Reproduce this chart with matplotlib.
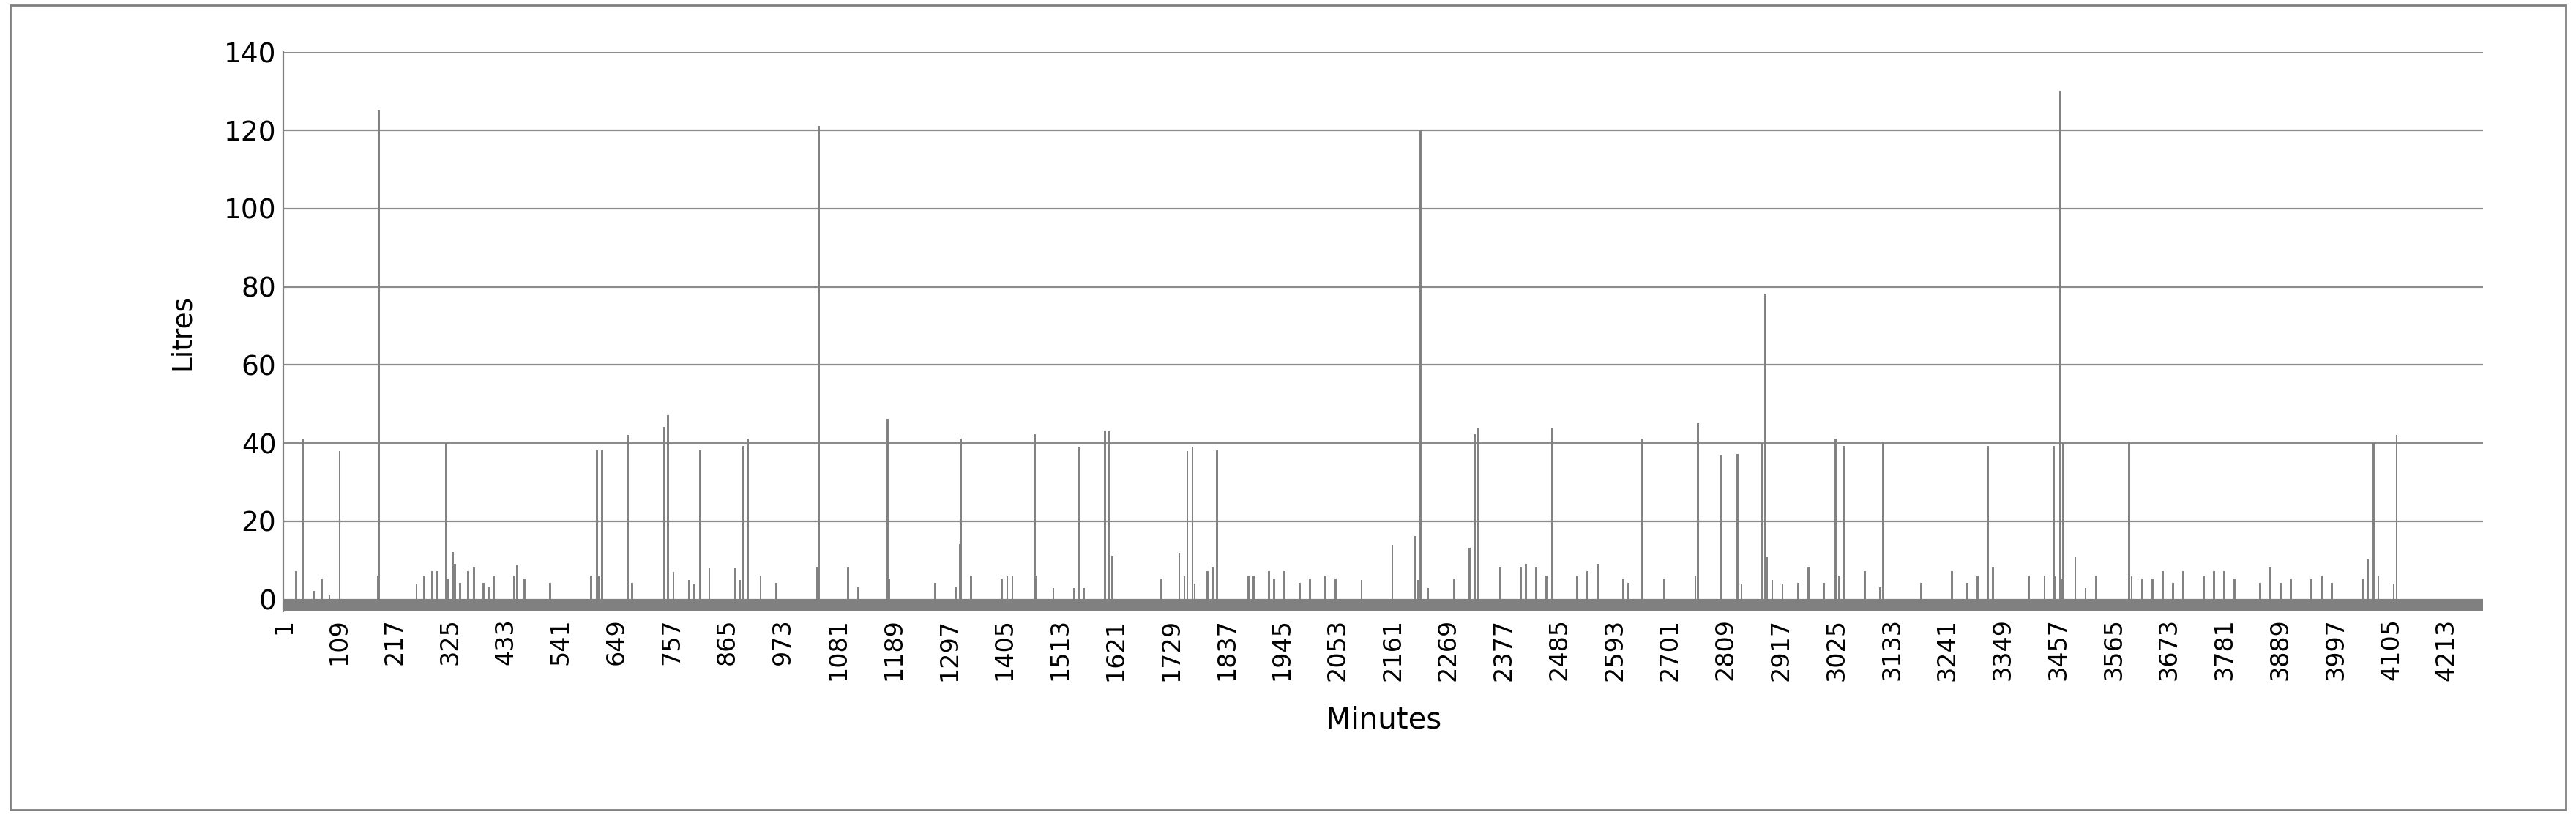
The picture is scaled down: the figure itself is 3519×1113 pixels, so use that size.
import matplotlib
matplotlib.use("Agg")
import matplotlib.pyplot as plt
import numpy as np

n_minutes = 4284
# large events (minute, litres)
big_minutes = [39,110,186,317,330,611,621,672,742,749,812,896,905,1043,1177,1318,1320,1464,1550,1601,1608,
               1761,1771,1819,2215,2320,2327,2471,2647,2755,2800,2832,2880,2886,3023,3039,3116,3320,
               3448,3461,3467,3595,4071,4116]
big_litres = [41,38,125,40,12,38,38,42,44,47,38,39,41,121,46,14,41,42,39,43,43,
              38,39,38,120,42,44,44,41,45,37,37,40,78,41,39,40,39,
              39,130,40,40,40,42]
# small events
small_minutes = [25,60,75,90,185,260,275,290,300,320,335,345,360,372,390,400,410,450,455,470,520,600,615,
                 680,760,790,800,830,880,890,930,960,1040,1100,1120,1180,1270,1310,1340,1400,1410,1420,1465,
                 1500,1540,1560,1615,1710,1745,1755,1775,1800,1810,1880,1890,1920,1930,1950,1980,2000,2030,2050,
                 2100,2160,2205,2210,2230,2280,2310,2370,2410,2420,2440,2460,2520,2540,2560,2610,2620,2690,2750,
                 2840,2890,2900,2920,2950,2970,3000,3030,3080,3110,3190,3250,3280,3300,3330,3400,3430,3450,3465,
                 3490,3510,3530,3600,3620,3640,3660,3680,3700,3740,3760,3780,3800,3850,3870,3890,3910,3950,3970,
                 3990,4050,4060,4080,4110]
small_litres = [7,2,5,1,6,4,6,7,7,5,9,4,7,8,4,3,6,6,9,5,4,6,6,
                4,7,5,4,8,8,5,6,4,8,8,3,5,4,3,6,5,6,6,6,
                3,3,3,11,5,12,6,4,7,8,6,6,7,5,7,4,5,6,5,
                5,14,16,5,3,5,13,8,8,9,8,6,6,7,9,5,4,5,6,
                4,11,5,4,4,8,4,6,7,3,4,7,4,6,8,6,6,6,5,
                11,3,6,6,5,5,7,4,7,6,7,7,5,4,8,4,5,5,6,4,
                5,10,6,4,5]

minutes = np.arange(1, n_minutes + 1)
litres = np.zeros(n_minutes)
for m, v in zip(small_minutes, small_litres):
    litres[m - 1] = v
for m, v in zip(big_minutes, big_litres):
    litres[m - 1] = v
tick_labels = list(range(1, 4214, 108))

fig = plt.figure(figsize=(17.595, 5.565), dpi=200)
fig.patches.append(plt.Rectangle((0.004, 0.006), 0.992, 0.988, transform=fig.transFigure,
                                 fill=False, edgecolor="#808080", linewidth=1))
ax = fig.add_axes([0.110, 0.25, 0.854, 0.686])
nz = litres > 0
ax.bar(minutes[nz], litres[nz], width=1, color="#808080", edgecolor="#808080", linewidth=0.7)
ax.axhspan(-3, 0, color="#808080", zorder=3)
ax.set_xlim(0.5, n_minutes + 0.5)
ax.set_ylim(-3, 140)
ax.set_yticks(range(0, 141, 20))
ax.set_xticks(tick_labels)
ax.set_xticklabels([str(t) for t in tick_labels], rotation=90, fontsize=12)
ax.tick_params(axis="y", labelsize=13.5, length=0)
ax.tick_params(axis="x", length=0)
ax.grid(axis="y", color="#8c8c8c", linewidth=0.8)
ax.set_axisbelow(True)
for s in ["top", "right", "bottom"]:
    ax.spines[s].set_visible(False)
ax.spines["left"].set_color("#808080")
ax.set_ylabel("Litres", fontsize=13.5, labelpad=14)
ax.set_xlabel("Minutes", fontsize=14.5, labelpad=12)
fig.savefig("out.png", dpi=200)
